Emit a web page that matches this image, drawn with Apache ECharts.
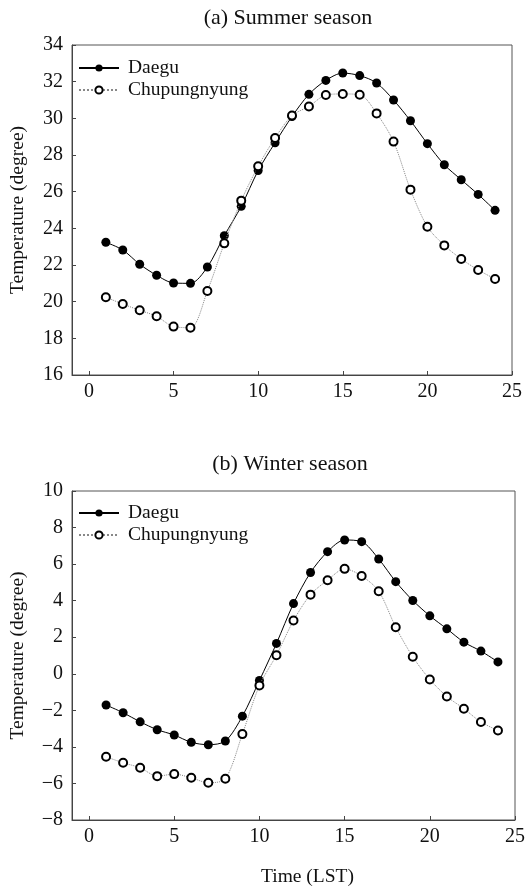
<!DOCTYPE html>
<html>
<head>
<meta charset="utf-8">
<script src="https://cdn.jsdelivr.net/npm/echarts@6/dist/echarts.min.js"></script>
<style>
html,body{margin:0;padding:0;background:#fff;}
#chart{width:532px;height:889px;}
</style>
</head>
<body>
<div id="chart"></div>
<script>
// ---- data ----
var hours = [1,2,3,4,5,6,7,8,9,10,11,12,13,14,15,16,17,18,19,20,21,22,23,24];
var summerDaegu = [23.24,22.82,22.04,21.44,21.02,21.0,21.89,23.6,25.2,27.15,28.67,30.1,31.31,32.07,32.47,32.33,31.93,31.0,29.87,28.62,27.47,26.65,25.85,24.98];
var summerChupungnyung = [20.24,19.87,19.53,19.2,18.64,18.58,20.58,23.18,25.51,27.38,28.93,30.15,30.65,31.27,31.33,31.29,30.27,28.73,26.11,24.09,23.07,22.33,21.73,21.24];
var winterDaegu = [-1.71,-2.13,-2.63,-3.06,-3.35,-3.75,-3.88,-3.68,-2.32,-0.37,1.66,3.84,5.54,6.68,7.32,7.23,6.28,5.04,4.01,3.17,2.46,1.73,1.24,0.65];
var winterChupungnyung = [-4.54,-4.87,-5.14,-5.6,-5.49,-5.69,-5.96,-5.74,-3.3,-0.64,1.02,2.91,4.33,5.12,5.74,5.35,4.52,2.55,0.93,-0.31,-1.24,-1.91,-2.64,-3.1];
var xTicks = [0,5,10,15,20,25];
var summerTitle = '(a) Summer season';
var winterTitle = '(b) Winter season';
var seriesNames = ['Daegu','Chupungnyung'];

function pairs(xs, ys){ return xs.map(function(x,i){ return [x, ys[i]]; }); }

var FONT = "'Liberation Serif','Times New Roman',serif";
var chart = echarts.init(document.getElementById('chart'));

function xAxisCfg(gridIndex, name){
  return {
    type:'value', gridIndex:gridIndex, min:-1, max:25,
    name:name || '', nameLocation:'middle', nameGap:47,
    nameTextStyle:{fontFamily:FONT, fontSize:19.5, color:'#111', padding:[0,0,0,28]},
    axisLine:{show:true, onZero:false, lineStyle:{color:'#444', width:1}},
    axisTick:{show:true, inside:true, length:4, customValues:xTicks, lineStyle:{color:'#444'}},
    axisLabel:{customValues:xTicks, fontFamily:FONT, fontSize:20, color:'#111', margin:7},
    splitLine:{show:false}
  };
}
function yAxisCfg(gridIndex, min, max){
  return {
    type:'value', gridIndex:gridIndex, min:min, max:max, interval:2,
    name:'Temperature (degree)', nameLocation:'middle', nameGap:44,
    nameTextStyle:{fontFamily:FONT, fontSize:19.5, color:'#111'},
    axisLine:{show:true, onZero:false, lineStyle:{color:'#444', width:1}},
    axisTick:{show:true, inside:true, length:4, lineStyle:{color:'#444'}},
    axisLabel:{fontFamily:FONT, fontSize:20, color:'#111', margin:9,
      formatter:function(v){ return String(v).replace('-', '\u2212'); }},
    splitLine:{show:false}
  };
}
function daeguSeries(idx, ys){
  return {
    name:seriesNames[0], type:'line', xAxisIndex:idx, yAxisIndex:idx,
    data:pairs(hours, ys), smooth:0.3,
    symbol:'circle', symbolSize:9,
    itemStyle:{color:'#000'},
    lineStyle:{color:'#000', width:1},
    z:3
  };
}
function chupSeries(idx, ys){
  return {
    name:seriesNames[1], type:'line', xAxisIndex:idx, yAxisIndex:idx,
    data:pairs(hours, ys), smooth:0.3,
    symbol:'emptyCircle', symbolSize:8,
    itemStyle:{color:'#000', borderColor:'#000', borderWidth:1},
    lineStyle:{color:'#888', width:1, type:'dotted'},
    z:4
  };
}
function legendCfg(top){
  return {
    data:seriesNames, orient:'vertical', left:78, top:top, padding:0,
    itemWidth:40, itemHeight:9, itemGap:2,
    textStyle:{fontFamily:FONT, fontSize:19.5, color:'#111', lineHeight:18, padding:[0,0,0,4]},
    selectedMode:false
  };
}

chart.setOption({
  animation:false,
  backgroundColor:'#fff',
  title:[
    {text:summerTitle, left:288, top:7, padding:0, textAlign:'center',
     textStyle:{fontFamily:FONT, fontSize:22, fontWeight:'normal', color:'#111'}},
    {text:winterTitle, left:290, top:453, padding:0, textAlign:'center',
     textStyle:{fontFamily:FONT, fontSize:22, fontWeight:'normal', color:'#111'}}
  ],
  legend:[legendCfg(58), legendCfg(503)],
  grid:[
    {left:67, right:20, top:45, height:330, show:true, borderColor:'#555', borderWidth:1, backgroundColor:'transparent'},
    {left:67, right:17, top:491, height:329, show:true, borderColor:'#555', borderWidth:1, backgroundColor:'transparent'}
  ],
  xAxis:[xAxisCfg(0), xAxisCfg(1, 'Time (LST)')],
  yAxis:[yAxisCfg(0,16,34), yAxisCfg(1,-8,10)],
  series:[
    daeguSeries(0, summerDaegu), chupSeries(0, summerChupungnyung),
    daeguSeries(1, winterDaegu), chupSeries(1, winterChupungnyung)
  ]
});
</script>
</body>
</html>
